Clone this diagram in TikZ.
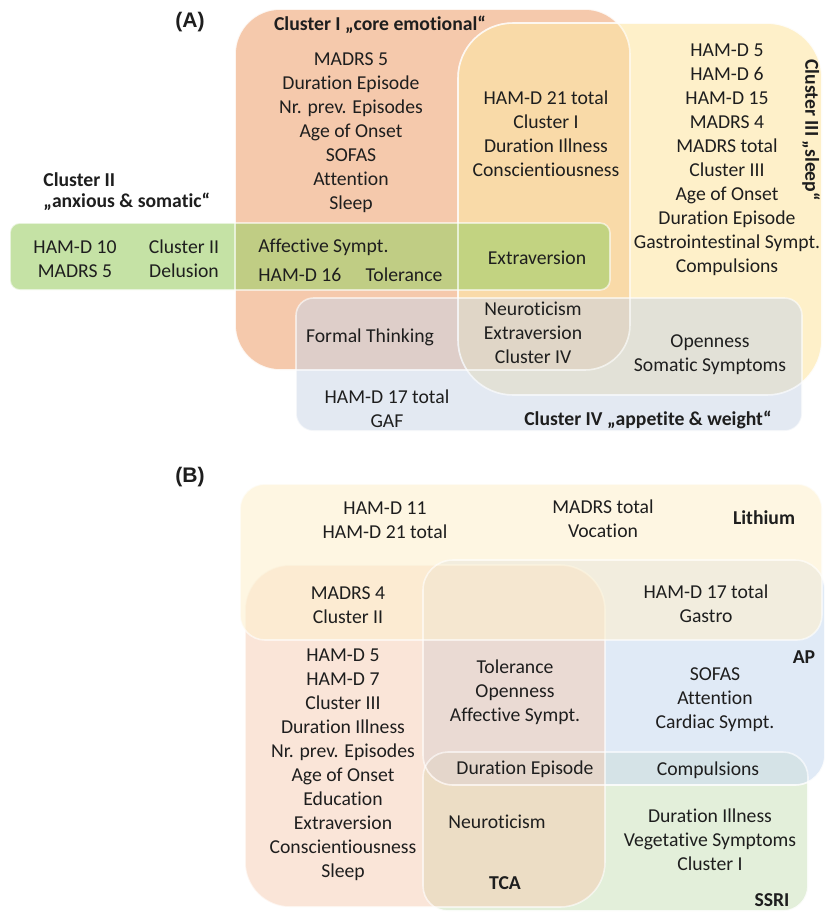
\documentclass[tikz,border=0pt]{standalone}
\usepackage{fontspec}
\setmainfont{Carlito}[Ligatures=NoCommon,RawFeature=-liga]
\newfontfamily\panelfont{Liberation Sans}
\usepackage{tikz}
\definecolor{coreorange}{HTML}{EEA575}
\definecolor{sleepyellow}{HTML}{FDE6A5}
\definecolor{anxgreen}{HTML}{9ECF69}
\definecolor{appblue}{HTML}{C8D4E6}
\definecolor{lithyellow}{HTML}{FDF0CF}
\definecolor{tcasalmon}{HTML}{F5CBB1}
\definecolor{apblue}{HTML}{CCDCF0}
\definecolor{ssrigreen}{HTML}{D0E4C1}
\definecolor{inkgray}{HTML}{1E1E1E}

\begin{document}
\begin{tikzpicture}[x=0.2mm,y=-0.2mm,
 setbox/.style={draw=white,draw opacity=0.6,line width=0.9pt,fill opacity=0.6},
 item/.style={font=\fontsize{11.2}{13.66}\selectfont,align=center,inner sep=0pt,text=inkgray},
 setname/.style={font=\fontsize{11.2}{13.66}\selectfont\bfseries,align=center,inner sep=0pt,text=inkgray},
 panel/.style={font=\panelfont\bfseries\fontsize{12}{14}\selectfont,inner sep=0pt,text=inkgray}]
\useasboundingbox (0,0) rectangle (825,913);

% Panel A: the four symptom clusters.
\fill[setbox,fill=coreorange,rounded corners=0.9cm] (235,9) rectangle (630,370);
\fill[setbox,fill=sleepyellow,rounded corners=1.1cm] (458,23) rectangle (822,395);
\fill[setbox,fill=anxgreen,rounded corners=0.2cm] (10,223) rectangle (610,290);
\fill[setbox,fill=appblue,fill opacity=0.5,rounded corners=0.35cm] (296,298) rectangle (802,431);
\draw[setbox,rounded corners=0.9cm] (235,9) rectangle (630,370);
\draw[setbox,rounded corners=1.1cm] (458,23) rectangle (822,395);

\node[panel] (labelA) at (190,22) {(A)};
\node[setname] (coreName) at (380,25) {Cluster I „core emotional“};
\node[setname,rotate=-90] (sleepName) at (811,130) {Cluster III „sleep“};
\node[setname,align=left,anchor=west,font=\fontsize{11.2}{12}\selectfont\bfseries] (anxName) at (43,192) {Cluster II\\„anxious \& somatic“};
\node[setname] (appName) at (648,420) {Cluster IV „appetite \& weight“};

\node[item] (coreList) at (351,133) {MADRS 5\\Duration Episode\\Nr. prev. Episodes\\Age of Onset\\SOFAS\\Attention\\Sleep};
\node[item] (coreSleep) at (546,134) {HAM-D 21 total\\Cluster I\\Duration Illness\\Conscientiousness};
\node[item] (sleepList) at (727,160) {HAM-D 5\\HAM-D 6\\HAM-D 15\\MADRS 4\\MADRS total\\Cluster III\\Age of Onset\\Duration Episode\\Gastrointestinal Sympt.\\Compulsions};
\node[item] (anxOnlyA) at (75,259) {HAM-D 10\\MADRS 5};
\node[item] (anxOnlyB) at (184,259) {Cluster II\\Delusion};
\node[item,anchor=west] (anxCoreA) at (258,247) {Affective Sympt.};
\node[item,anchor=west] (anxCoreB) at (258,275) {HAM-D 16};
\node[item] (anxCoreC) at (404,275) {Tolerance};
\node[item] (anxCoreSleep) at (537,258) {Extraversion};
\node[item] (appCore) at (370,337) {Formal Thinking};
\node[item] (appCoreSleep) at (533,333) {Neuroticism\\Extraversion\\Cluster IV};
\node[item] (appSleep) at (710,355) {Openness\\Somatic Symptoms};
\node[item] (appOnly) at (387,409) {HAM-D 17 total\\GAF};

% Panel B: the four drug classes.
\fill[setbox,fill=ssrigreen,rounded corners=0.5cm] (423,752) rectangle (808,911);
\fill[setbox,fill=apblue,rounded corners=0.6cm] (423,560) rectangle (825,785);
\fill[setbox,fill=tcasalmon,fill opacity=0.5,rounded corners=0.9cm] (245,565) rectangle (605,907);
\fill[setbox,fill=lithyellow,rounded corners=0.5cm] (240,484) rectangle (822,640);
\draw[setbox,rounded corners=0.6cm] (423,560) rectangle (825,785);
\draw[setbox,rounded corners=0.5cm] (423,752) rectangle (808,911);

\node[panel] (labelB) at (190,477) {(B)};
\node[setname] (lithName) at (764,518) {Lithium};
\node[setname] (apName) at (804,657) {AP};
\node[setname] (tcaName) at (505,883) {TCA};
\node[setname] (ssriName) at (772,900) {SSRI};

\node[item] (lithOnlyA) at (385,520) {HAM-D 11\\HAM-D 21 total};
\node[item] (lithOnlyB) at (603,519) {MADRS total\\Vocation};
\node[item] (lithTca) at (348,605) {MADRS 4\\Cluster II};
\node[item] (lithAp) at (706,604) {HAM-D 17 total\\Gastro};
\node[item] (tcaList) at (343,765) {HAM-D 5\\HAM-D 7\\Cluster III\\Duration Illness\\Nr. prev. Episodes\\Age of Onset\\Education\\Extraversion\\Conscientiousness\\Sleep};
\node[item] (tcaAp) at (515,692) {Tolerance\\Openness\\Affective Sympt.};
\node[item] (apOnly) at (715,700) {SOFAS\\Attention\\Cardiac Sympt.};
\node[item] (tcaApSsri) at (525,769) {Duration Episode};
\node[item] (apSsri) at (708,770) {Compulsions};
\node[item] (tcaSsri) at (497,822) {Neuroticism};
\node[item] (ssriOnly) at (710,840) {Duration Illness\\Vegetative Symptoms\\Cluster I};
\end{tikzpicture}
\end{document}
